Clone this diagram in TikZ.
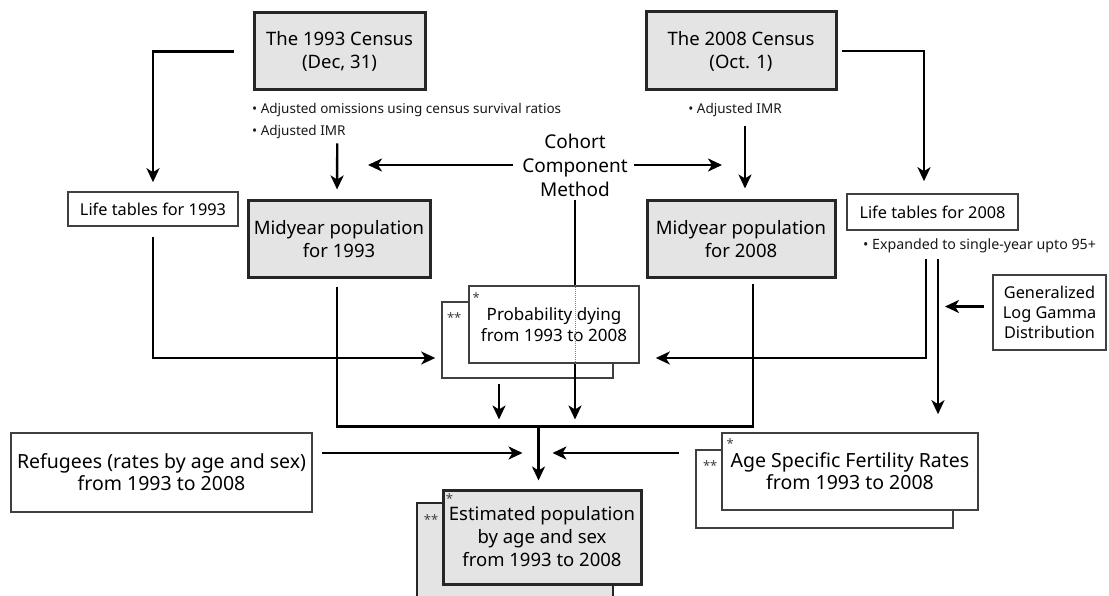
\documentclass[tikz,border=0pt]{standalone}
\usepackage{fontspec}
\setmainfont{Noto Sans}
\usepackage{tikz}
\usetikzlibrary{arrows.meta}

\definecolor{boxgray}{RGB}{228,228,228}
\newcommand{\boxfont}{\fontsize{18.5}{23}\selectfont}
\newcommand{\wideboxfont}{\fontsize{19.5}{22}\selectfont}
\newcommand{\tablefont}{\fontsize{16.3}{20}\selectfont}
\newcommand{\probfont}{\fontsize{17}{21}\selectfont}
\newcommand{\cohortfont}{\fontsize{19}{24}\selectfont}
\newcommand{\notefont}{\fontsize{13.5}{15}\selectfont\bfseries}
\newcommand{\starfont}{\fontsize{13}{13}\selectfont}

\begin{document}
\begin{tikzpicture}[
    x = 1pt, y = -1pt, % one unit per pixel, y going down
    > = {Stealth[length=14pt, width=13pt, inset=4pt]}, % arrow head style
    line width = 2.4pt % line style
    ]

    \tikzset{
    graybox/.style = {draw = black!85, line width = 3pt, fill = boxgray, align = center, font = \boxfont, inner sep = 2pt},
    whitebox/.style = {draw = black!75, line width = 1.6pt, fill = white, align = center, font = \boxfont, inner sep = 2pt},
    note/.style = {font = \notefont, inner sep = 0pt, anchor = west, text = black!90},
    starmark/.style = {font = \starfont, inner sep = 0pt, text = black!75}
    }

    \useasboundingbox[fill = white] (0,0) rectangle (1109,596);

    % censuses
    \node[graybox, minimum width = 171, minimum height = 77] (c93) at (339.5,51.5) {The 1993 Census\\(Dec, 31)};
    \node[graybox, minimum width = 190, minimum height = 78] (c08) at (741,51) {The 2008 Census\\(Oct. 1)};
    \node[note] (b93a) at (251,110) {• Adjusted omissions using census survival ratios};
    \node[note] (b93b) at (251,132) {• Adjusted IMR};
    \node[note, anchor = center] (b08) at (735,110) {• Adjusted IMR};

    % midyear populations
    \node[graybox, minimum width = 182, minimum height = 77] (m93) at (339,239.5) {Midyear population\\for 1993};
    \node[graybox, minimum width = 188, minimum height = 77] (m08) at (741,239.5) {Midyear population\\for 2008};

    % life tables
    \node[whitebox, font = \tablefont, minimum width = 170, minimum height = 34] (lt93) at (153,209) {Life tables for 1993};
    \node[whitebox, font = \tablefont, minimum width = 171, minimum height = 36] (lt08) at (932.5,212) {Life tables for 2008};
    \node[note, font = \notefont\fontsize{14.2}{15}\selectfont] (b08x) at (862,246) {• Expanded to single-year upto 95+};

    \node[align = center, font = \cohortfont, inner sep = 2pt] (cohort) at (575,165) {Cohort\\Component\\Method};

    % probability dying
    \node[whitebox, minimum width = 171, minimum height = 76] (pdb) at (527.5,340) {};
    \node[whitebox, font = \probfont, minimum width = 170, minimum height = 77] (pd) at (554,324.5) {Probability dying\\from 1993 to 2008};
    \node[starmark] (pdbstar) at ([shift={(13pt,-16pt)}]pdb.north west) {**};
    \node[starmark] (pdstar) at ([shift={(8pt,-12pt)}]pd.north west) {*};

    \node[whitebox, font = \tablefont, minimum width = 113, minimum height = 75] (gld) at (1049.5,312.5) {Generalized\\Log Gamma\\Distribution};
    \node[whitebox, font = \wideboxfont, minimum width = 301, minimum height = 79] (ref) at (161.5,472.5) {Refugees (rates by age and sex)\\from 1993 to 2008};

    % fertility rates
    \node[whitebox, minimum width = 257, minimum height = 78] (asfrb) at (824.5,489) {};
    \node[whitebox, font = \wideboxfont, minimum width = 256, minimum height = 77] (asfr) at (850,471.5) {Age Specific Fertility Rates\\from 1993 to 2008};
    \node[starmark] (asfrbstar) at ([shift={(15pt,-16pt)}]asfrb.north west) {**};
    \node[starmark] (asfrstar) at ([shift={(9pt,-11pt)}]asfr.north west) {*};

    % estimated population
    \node[graybox, line width = 2pt, minimum width = 196, minimum height = 97] (estb) at (515,551.5) {};
    \node[graybox, minimum width = 198, minimum height = 94] (est) at ([yshift=-2pt]542,535) {Estimated population\\by age and sex\\from 1993 to 2008};
    \node[starmark] (estbstar) at ([shift={(15pt,-18pt)}]estb.north west) {**};
    \node[starmark] (eststar) at ([shift={(8pt,-10pt)}]est.north west) {*};

    \coordinate (bar) at (538.5,426.5);
    \coordinate (cohortL) at (368,165);
    \coordinate (cohortR) at (722,165);
    \coordinate (asfrin) at ([xshift=5.5pt]lt08.south);

    \draw[->, shorten <= 19pt, shorten >= 9pt] (c93.west) -| (lt93.north);
    \draw[->, shorten <= 4pt, shorten >= 12pt] (c08.east) -| ([xshift=-8.5pt]lt08.north);
    \draw[->, shorten <= 52pt, shorten >= 10pt] ([xshift=-2pt]c93.south) -- ([xshift=-2pt]m93.north);
    \draw[->, shorten <= 35pt, shorten >= 11pt] ([xshift=4pt]c08.south) -- ([xshift=4pt]m08.north);
    \draw[->, shorten <= 6pt] (cohort.west) -- (cohortL);
    \draw[->, shorten <= 3pt] (cohort.east) -- (cohortR);

    \draw (cohort.south) -- (cohort.south |- pd.north);
    \draw[densely dotted, line width = 1pt, black!50] (cohort.south |- pd.north) -- (cohort.south |- pd.south);
    \draw[->, shorten >= 7pt] (cohort.south |- pd.south) -- (cohort.south |- bar);
    \draw[->, shorten <= 5pt, shorten >= 7pt] ([xshift=-28.5pt]pdb.south) -- ([xshift=-28.5pt]pdb.south |- bar);

    \draw[->, shorten <= 10pt, shorten >= 6pt] (lt93.south) |- ([yshift=-18pt]pdb.west);
    \draw[->, shorten <= 28pt, shorten >= 16pt] ([xshift=-6.5pt]lt08.south) |- ([yshift=-33.5pt]pd.east);
    \draw[->, shorten <= 28pt, shorten >= 18pt] (asfrin) -- (asfrin |- asfr.north);
    \draw[->, shorten <= 8pt, shorten >= 7pt] ([yshift=6pt]gld.west) -- ([yshift=6pt]gld.west -| asfrin);

    \draw[shorten <= 8pt, shorten >= 5pt] ([xshift=-2pt]m93.south) |- (bar) -| ([xshift=12pt]m08.south);
    \draw[->, shorten >= 8pt] (bar) -- (bar |- est.north);
    \draw[->, shorten <= 9pt, shorten >= 16pt] ([yshift=19.5pt]ref.east) -- ([yshift=19.5pt]ref.east -| bar);
    \draw[->, shorten <= 16pt, shorten >= 14pt] ([yshift=36pt]asfrb.west) -- ([yshift=36pt]asfrb.west -| bar);
\end{tikzpicture}
\end{document}
